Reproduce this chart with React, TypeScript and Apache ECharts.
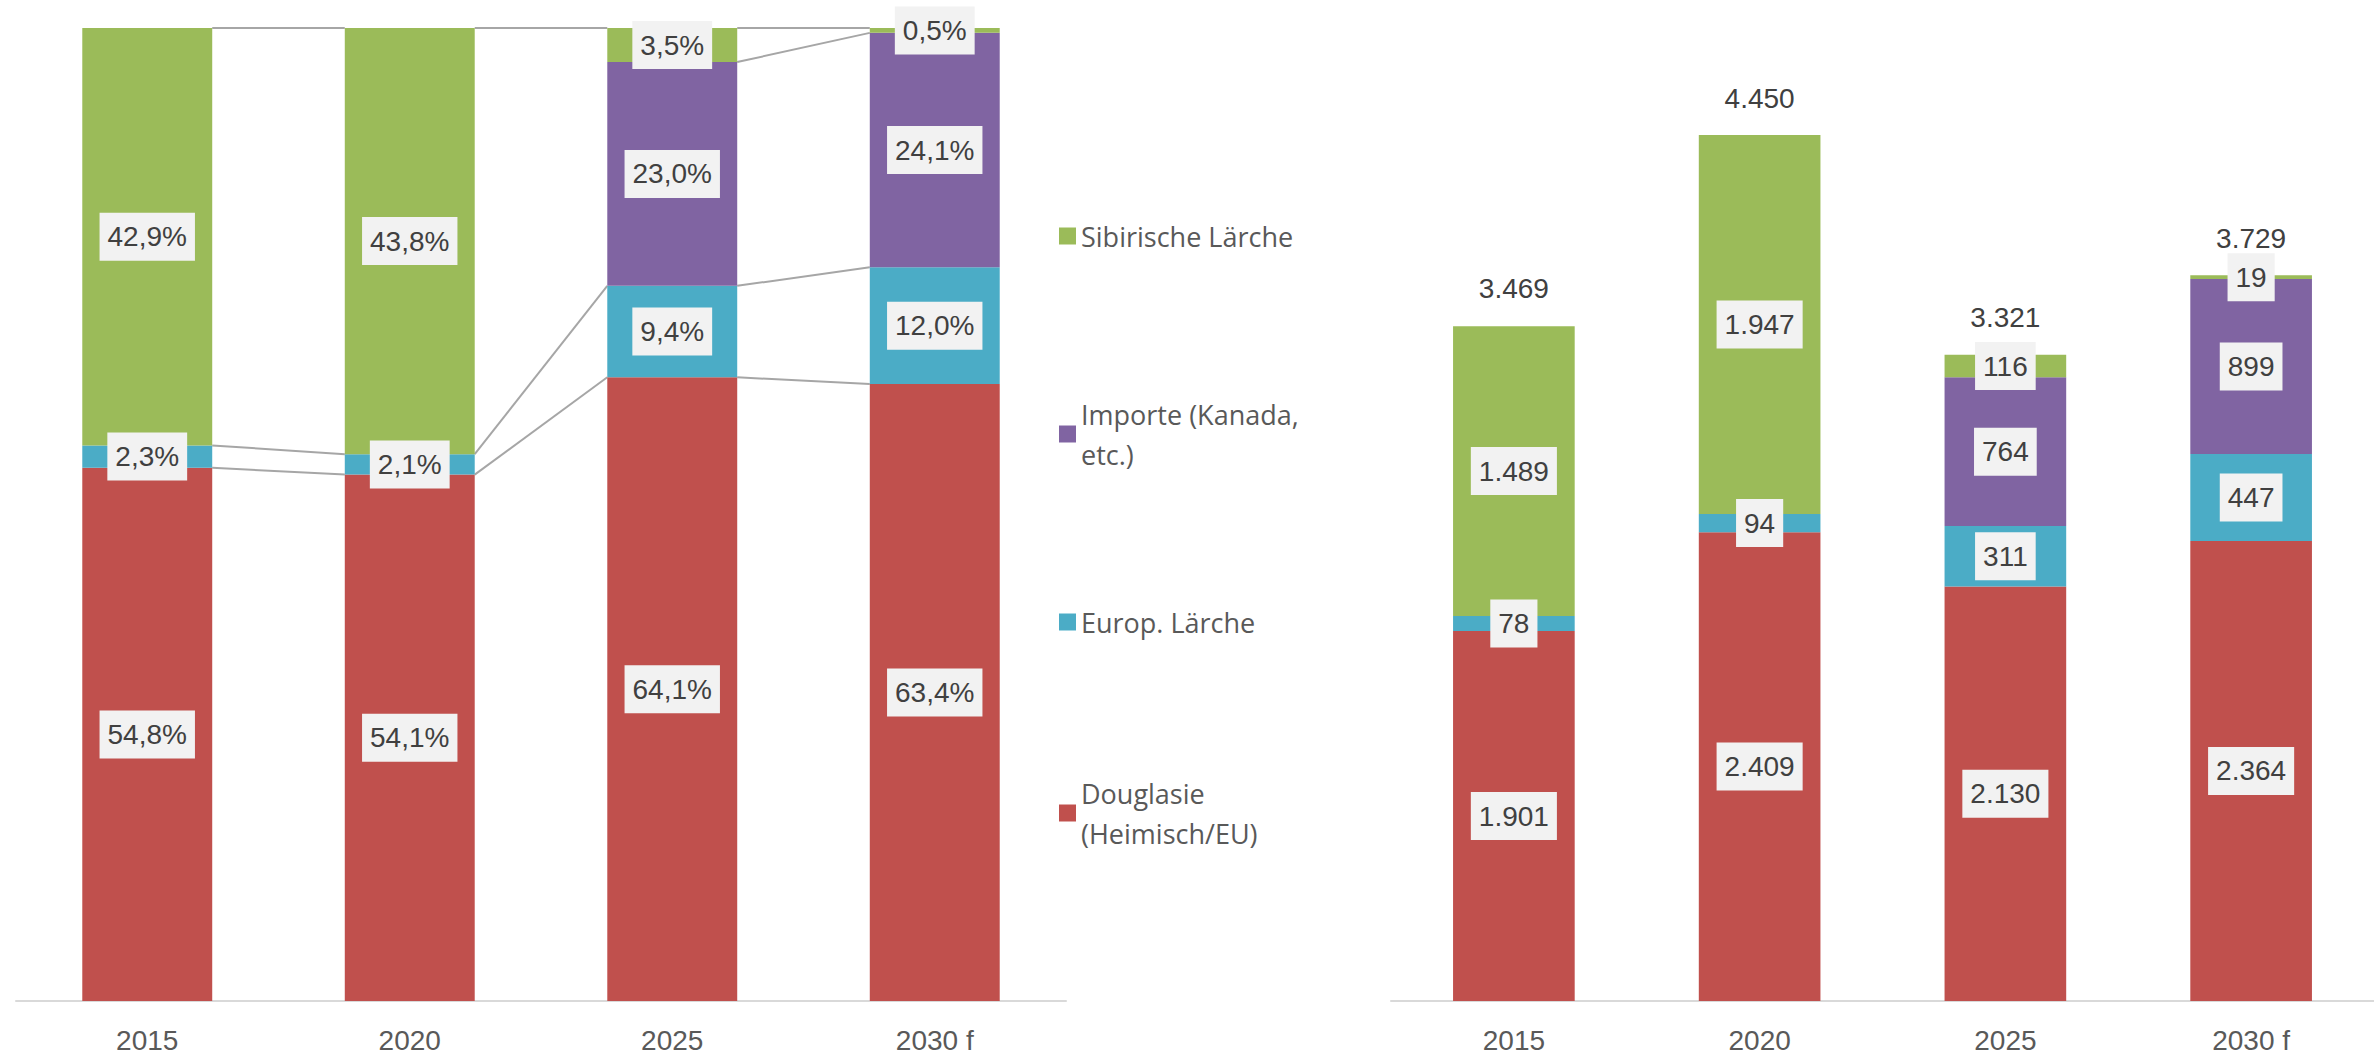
import React, { useEffect, useRef } from 'react';
import * as echarts from 'echarts';

const categories = ['2015', '2020', '2025', '2030 f'];
const seriesNames = ['Douglasie\n(Heimisch/EU)', 'Europ. Lärche', 'Importe (Kanada,\netc.)', 'Sibirische Lärche'];
const seriesColors = ['#C0504D', '#4BACC6', '#8064A2', '#9BBB59'];

// shares in % (left chart)
const shareDouglasie = [54.8, 54.1, 64.1, 63.4];
const shareEurop = [2.3, 2.1, 9.4, 12.0];
const shareImporte = [0, 0, 23.0, 24.1];
const shareSibirisch = [42.9, 43.8, 3.5, 0.5];

// volumes (right chart)
const volDouglasie = [1901, 2409, 2130, 2364];
const volEurop = [78, 94, 311, 447];
const volImporte = [0, 0, 764, 899];
const volSibirisch = [1489, 1947, 116, 19];
const volTotals = [3469, 4450, 3321, 3729];

const LABEL_FONT = "'Liberation Sans', Arial, sans-serif";
const LEGEND_FONT = "'Open Sans', sans-serif";

const fmtPct = (v: number) => v.toFixed(1).replace('.', ',') + '%';
const fmtNum = (v: number) => String(v).replace(/\B(?=(\d{3})+(?!\d))/g, '.');

const labelBox = (fmt: (v: number) => string) => ({
  show: true,
  position: 'inside',
  color: '#404040',
  fontFamily: LABEL_FONT,
  fontSize: 28,
  lineHeight: 28,
  backgroundColor: '#F2F2F2',
  padding: [10, 8],
  formatter: (p: any) => fmt(p.value),
});

export default function App() {
  const ref = useRef<HTMLDivElement>(null);
  useEffect(() => {
    if (!ref.current) return;
    const chart = echarts.init(ref.current, undefined, { renderer: 'svg' });
    const shares = [shareDouglasie, shareEurop, shareImporte, shareSibirisch];
    const vols = [volDouglasie, volEurop, volImporte, volSibirisch];

    // cumulative tops for series lines
    const cum: number[][] = shares.map(() => categories.map(() => 0));
    categories.forEach((_, i) => {
      let acc = 0;
      shares.forEach((arr, s) => {
        acc += arr[i];
        cum[s][i] = acc;
      });
    });
    const lineData: number[][] = [];
    shares.forEach((arr, s) => {
      for (let i = 0; i < categories.length - 1; i++) {
        if (arr[i] > 0 && arr[i + 1] > 0) lineData.push([i, cum[s][i], cum[s][i + 1]]);
      }
    });

    const series: any[] = [];
    shares.forEach((arr, s) => {
      series.push({
        type: 'bar',
        name: seriesNames[s],
        xAxisIndex: 0,
        yAxisIndex: 0,
        stack: 'share',
        barWidth: '49.5%',
        itemStyle: { color: seriesColors[s] },
        label: labelBox(fmtPct),
        data: arr.map((v) => (v > 0 ? v : '-')),
      });
    });
    series.push({
      type: 'custom',
      xAxisIndex: 0,
      yAxisIndex: 0,
      silent: true,
      encode: { x: 0, y: [1, 2] },
      data: lineData,
      renderItem: (params: any, api: any) => {
        const i = api.value(0);
        const p1 = api.coord([i, api.value(1)]);
        const p2 = api.coord([i + 1, api.value(2)]);
        const half = (api.size([1, 0])[0] * 0.495) / 2;
        return {
          type: 'line',
          shape: { x1: p1[0] + half, y1: p1[1], x2: p2[0] - half, y2: p2[1] },
          style: { stroke: '#A6A6A6', lineWidth: 2 },
        };
      },
    });
    vols.forEach((arr, s) => {
      series.push({
        type: 'bar',
        name: seriesNames[s],
        xAxisIndex: 1,
        yAxisIndex: 1,
        stack: 'vol',
        barWidth: '49.5%',
        barGap: '-100%',
        itemStyle: { color: seriesColors[s] },
        label: labelBox(fmtNum),
        data: arr.map((v) => (v > 0 ? v : '-')),
      });
    });
    series.push({
      type: 'bar',
      name: 'Summe',
      xAxisIndex: 1,
      yAxisIndex: 1,
      barWidth: '49.5%',
      barGap: '-100%',
      silent: true,
      z: 1,
      itemStyle: { color: 'rgba(0,0,0,0)' },
      label: {
        show: true,
        position: 'top',
        distance: 23,
        color: '#404040',
        fontFamily: LABEL_FONT,
        fontSize: 28,
        formatter: (p: any) => fmtNum(p.value),
      },
      data: volTotals,
    });

    const legendCommon = {
      left: 1059,
      padding: 0,
      orient: 'vertical',
      itemWidth: 17,
      itemHeight: 17,
      icon: 'rect',
      selectedMode: false,
    };
    const legendText = (pt: number) => ({
      fontFamily: LEGEND_FONT,
      fontSize: 27,
      color: '#595959',
      lineHeight: 40,
      backgroundColor: 'rgba(255,255,255,0)',
      padding: [pt, 0, 0, 0],
    });

    const xAxisCommon = {
      type: 'category',
      data: categories,
      axisTick: { show: false },
      axisLine: { lineStyle: { color: '#D9D9D9', width: 2 } },
      axisLabel: { color: '#595959', fontFamily: LABEL_FONT, fontSize: 28, margin: 25 },
    };

    chart.setOption({
      animation: false,
      grid: [
        { left: 16, top: 28, width: 1050, height: 973 },
        { left: 1391, top: 28, width: 1000, height: 973 },
      ],
      xAxis: [
        { ...xAxisCommon, gridIndex: 0 },
        { ...xAxisCommon, gridIndex: 1 },
      ],
      yAxis: [
        { type: 'value', gridIndex: 0, min: 0, max: 100, show: false, splitLine: { show: false } },
        { type: 'value', gridIndex: 1, min: 0, max: 5000, show: false, splitLine: { show: false } },
      ],
      legend: [
        { ...legendCommon, top: 216, data: [seriesNames[3]], textStyle: legendText(0) },
        { ...legendCommon, top: 374, data: [seriesNames[2]], textStyle: legendText(40) },
        { ...legendCommon, top: 602, data: [seriesNames[1]], textStyle: legendText(0) },
        { ...legendCommon, top: 753, data: [seriesNames[0]], textStyle: legendText(40) },
      ],
      series,
    });
    return () => chart.dispose();
  }, []);
  return (
    <div
      ref={ref}
      style={{ position: 'absolute', left: 0, top: 0, width: 2374, height: 1055, background: '#fff' }}
    />
  );
}
